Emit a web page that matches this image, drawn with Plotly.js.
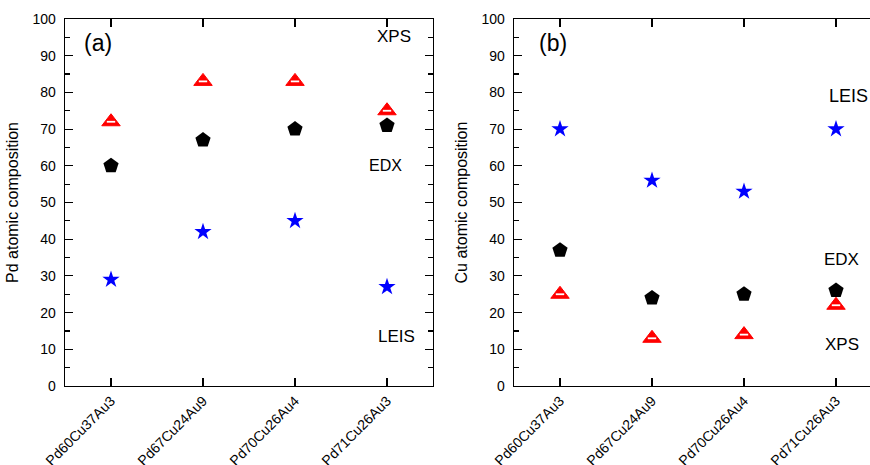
<!DOCTYPE html>
<html>
<head>
<meta charset="utf-8">
<script src="https://cdn.plot.ly/plotly-3.0.1.min.js"></script>
<style>html,body{margin:0;padding:0;overflow:hidden;background:#fff;width:870px;height:465px;}</style>
</head>
<body>
<div id="chart"></div>
<script>
const samples = ["Pd60Cu37Au3", "Pd67Cu24Au9", "Pd70Cu26Au4", "Pd71Cu26Au3"];
const pdXPS  = [72, 83, 83, 75];
const pdEDX  = [60, 67, 70, 71];
const pdLEIS = [29, 42, 45, 27];
const cuXPS  = [25, 13, 14, 22];
const cuEDX  = [37, 24, 25, 26];
const cuLEIS = [70, 56, 53, 70];
const yTicks = [0, 10, 20, 30, 40, 50, 60, 70, 80, 90, 100];

const FONT = "Liberation Sans, Arial, sans-serif";

function panel(xa, ya, xps, edx, leis) {
  return [
    {x: samples, y: xps, xaxis: xa, yaxis: ya, type: "scatter", mode: "markers",
     marker: {symbol: "triangle-up", size: 16, color: "#ff0000", line: {color: "#ff0000", width: 1}}},
    {x: samples, y: xps, xaxis: xa, yaxis: ya, type: "scatter", mode: "markers",
     marker: {symbol: "line-ew", size: 6, line: {color: "#ffffff", width: 1.8}}},
    {x: samples, y: edx, xaxis: xa, yaxis: ya, type: "scatter", mode: "markers",
     marker: {symbol: "pentagon", size: 16, color: "#000000", line: {width: 0}}},
    {x: samples, y: leis, xaxis: xa, yaxis: ya, type: "scatter", mode: "markers",
     marker: {symbol: "star", size: 13, color: "#0000ff", line: {width: 0}}}
  ];
}

const data = [].concat(
  panel("x", "y", pdXPS, pdEDX, pdLEIS),
  panel("x2", "y2", cuXPS, cuEDX, cuLEIS)
);

const W = 900, L = 65, R = 18;
const PW = W - L - R;
const d1 = [0, 368 / PW];
const d2 = [(514 - L) / PW, 1];

function xAxis(domain, anchor) {
  return {
    domain: domain, anchor: anchor, type: "category",
    range: [-0.5, 3.5], showline: true, mirror: "ticks", linecolor: "#000", linewidth: 1.3,
    ticks: "inside", ticklen: 8, tickwidth: 1.2, tickcolor: "#000",
    minor: {ticks: "inside", ticklen: 5, tickwidth: 1.2, tickcolor: "#000", dtick: 0.5, tick0: -0.5},
    showgrid: false, zeroline: false, tickangle: -45,
    tickfont: {family: FONT, size: 14, color: "#000"}
  };
}
function yAxis(domain, anchor, title) {
  return {
    domain: [0, 1], anchor: anchor, range: [0, 100],
    tickvals: yTicks, ticktext: yTicks.map(String),
    showline: true, mirror: "ticks", linecolor: "#000", linewidth: 1.3,
    ticks: "inside", ticklen: 8, tickwidth: 1.2, tickcolor: "#000",
    minor: {ticks: "inside", ticklen: 5, tickwidth: 1.2, tickcolor: "#000", dtick: 5, tick0: 0},
    showgrid: false, zeroline: false, ticklabelstandoff: 5,
    tickfont: {family: FONT, size: 14, color: "#000"},
    title: {text: title, font: {family: FONT, size: 16, color: "#000"}, standoff: 10}
  };
}

function ann(xref, yref, x, y, text, size) {
  return {xref: xref, yref: yref, x: x, y: y, text: text, showarrow: false,
    xanchor: "center", yanchor: "middle", font: {family: FONT, size: size, color: "#000"}};
}

const layout = {
  width: W, height: 465,
  margin: {l: L, r: R, t: 19, b: 79},
  paper_bgcolor: "#fff", plot_bgcolor: "#fff",
  showlegend: false,
  xaxis: xAxis(d1, "y"),
  yaxis: yAxis(d1, "x", "Pd atomic composition"),
  xaxis2: xAxis(d2, "y2"),
  yaxis2: yAxis(d2, "x2", "Cu atomic composition"),
  annotations: [
    ann("x domain", "y domain", 0.09, 0.935, "(a)", 23),
    ann("x domain", "y domain", 0.895, 0.951, "XPS", 17),
    ann("x domain", "y domain", 0.872, 0.602, "EDX", 16),
    ann("x domain", "y domain", 0.902, 0.134, "LEIS", 17),
    ann("x2 domain", "y2 domain", 0.106, 0.935, "(b)", 23),
    ann("x2 domain", "y2 domain", 0.908, 0.79, "LEIS", 18),
    ann("x2 domain", "y2 domain", 0.89, 0.346, "EDX", 17),
    ann("x2 domain", "y2 domain", 0.89, 0.114, "XPS", 17)
  ]
};

Plotly.newPlot("chart", data, layout, {displayModeBar: false, staticPlot: true});
</script>
</body>
</html>
